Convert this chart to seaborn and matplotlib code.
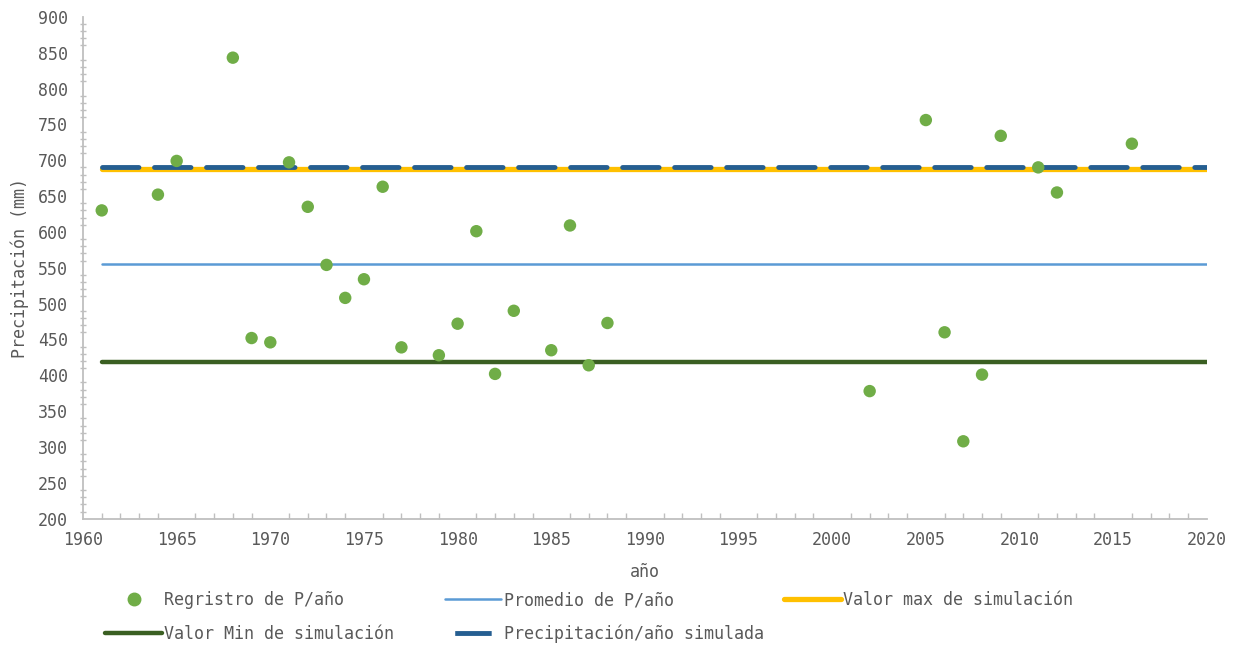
import pandas as pd
import numpy as np
import seaborn as sns
import matplotlib.pyplot as plt
from matplotlib.ticker import MultipleLocator
from matplotlib.lines import Line2D

# registered annual precipitation (mm)
years = [1961, 1964, 1965, 1968, 1969, 1970, 1971, 1972, 1973, 1974, 1975, 1976,
         1977, 1979, 1980, 1981, 1982, 1983, 1985, 1986, 1987, 1988,
         2002, 2005, 2006, 2007, 2008, 2009, 2011, 2012, 2016]
precip = [630, 652, 699, 843, 452, 446, 697, 635, 554, 508, 534, 663,
          439, 428, 472, 601, 402, 490, 435, 609, 414, 473,
          378, 756, 460, 308, 401, 734, 690, 655, 723]

# reference lines
line_years = [1961, 2020]
promedio = 555
valor_max = 688
valor_min = 419
simulada = 691

sns.set_style("white")
plt.rcParams['font.family'] = ['DejaVu Sans Mono', 'DejaVu Sans']
grey = "#595959"

df = pd.DataFrame({"año": years, "P": precip})
lines = pd.DataFrame({"año": line_years})

fig, ax = plt.subplots(figsize=(12.39, 6.46), dpi=100)
fig.subplots_adjust(left=0.067, right=0.974, top=0.974, bottom=0.197)

sns.lineplot(x=lines["año"], y=[promedio] * 2, ax=ax, color="#5B9BD5", lw=1.8, zorder=2)
sns.lineplot(x=lines["año"], y=[valor_max] * 2, ax=ax, color="#FFC000", lw=3.8, zorder=2)
sns.lineplot(x=lines["año"], y=[valor_min] * 2, ax=ax, color="#3A5F22", lw=3.2, zorder=2)
sns.lineplot(x=lines["año"], y=[simulada] * 2, ax=ax, color="#255E91", lw=3.5, zorder=3)
ax.lines[-1].set_dashes((7.5, 3.2))
ax.lines[-1].set_dash_capstyle("round")
sns.scatterplot(data=df, x="año", y="P", ax=ax, color="#70AD47", s=80,
                edgecolor="none", zorder=4)

ax.set_xlim(1960, 2020)
ax.set_ylim(200, 900)
ax.xaxis.set_major_locator(MultipleLocator(5))
ax.xaxis.set_minor_locator(MultipleLocator(1))
ax.yaxis.set_major_locator(MultipleLocator(50))
ax.yaxis.set_minor_locator(MultipleLocator(10))
ax.tick_params(axis="x", which="major", direction="inout", length=10, width=1.2,
               color="#BFBFBF", labelsize=12, labelcolor=grey, pad=4)
ax.tick_params(axis="x", which="minor", direction="in", length=4, width=1,
               color="#BFBFBF", bottom=True)
ax.tick_params(axis="y", which="major", direction="out", length=7, width=1.2,
               color="#BFBFBF", labelsize=12, labelcolor=grey, pad=4)
ax.tick_params(axis="y", which="minor", direction="inout", length=5, width=1,
               color="#BFBFBF", left=True)
for side in ["top", "right"]:
    ax.spines[side].set_visible(False)
for side in ["left", "bottom"]:
    ax.spines[side].set_color("#BFBFBF")
    ax.spines[side].set_linewidth(1.3)

ax.set_xlabel("año", fontsize=12, color=grey, labelpad=10)
ax.set_ylabel("Precipitación (mm)", fontsize=12, color=grey, labelpad=6)

# legend laid out on a fixed grid, like the original
entries = [
    (Line2D([], [], marker="o", ls="none", color="#70AD47", markersize=9),
     "Regristro de P/año", 0.085, 0.071),
    (Line2D([], [], color="#5B9BD5", lw=1.8), "Promedio de P/año", 0.359, 0.071),
    (Line2D([], [], color="#FFC000", lw=3.8), "Valor max de simulación", 0.633, 0.071),
    (Line2D([], [], color="#3A5F22", lw=3.2), "Valor Min de simulación", 0.085, 0.019),
    (Line2D([], [], color="#255E91", lw=3.5, ls=(9.5, (7.5, 4.0))),
     "Precipitación/año simulada", 0.359, 0.019),
]
for h, lab, x, y in entries:
    fig.legend([h], [lab], loc="center left", bbox_to_anchor=(x, y), frameon=False,
               fontsize=12, labelcolor=grey, handlelength=3.4, handletextpad=0.15,
               borderpad=0, borderaxespad=0)

plt.savefig("out.png", dpi=100)
